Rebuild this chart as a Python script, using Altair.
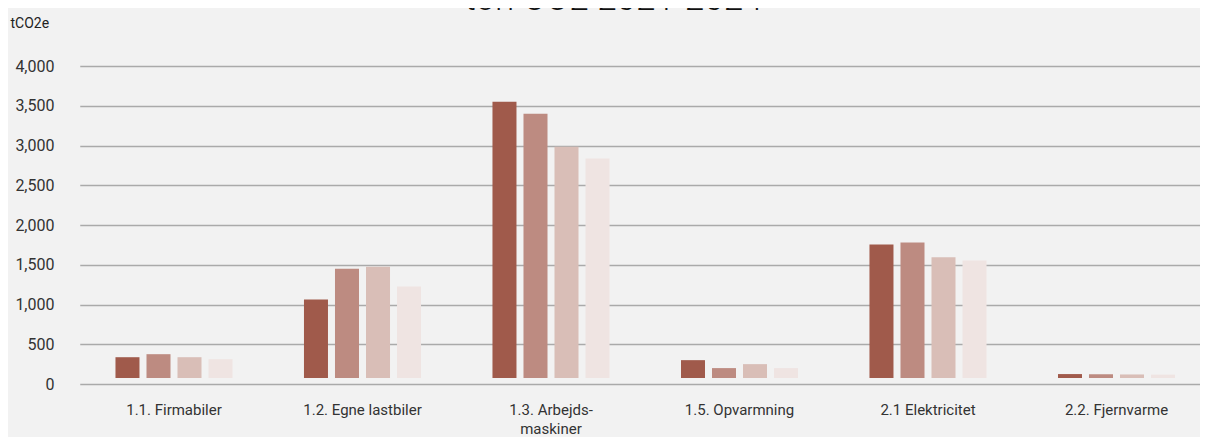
import altair as alt
import pandas as pd

categories = ["1.1. Firmabiler", "1.2. Egne lastbiler", "1.3. Arbejds-maskiner",
              "1.5. Opvarmning", "2.1 Elektricitet", "2.2. Fjernvarme"]
years = ["2021", "2022", "2023", "2024"]
v2021 = [337, 1062, 3550, 300, 1755, 125]
v2022 = [375, 1450, 3400, 200, 1780, 122]
v2023 = [337, 1475, 2985, 250, 1595, 120]
v2024 = [312, 1225, 2835, 200, 1555, 118]
colors = ["#a05a4b", "#bd8b81", "#d9beb7", "#efe4e2"]

rows = []
for y, vals in zip(years, [v2021, v2022, v2023, v2024]):
    for c, v in zip(categories, vals):
        rows.append({"kategori": c, "år": y, "værdi": v})
df = pd.DataFrame(rows)

font = "Roboto"

label_expr = ("datum.value == '1.3. Arbejds-maskiner' ? ['1.3. Arbejds-', 'maskiner'] : datum.value")

chart = alt.Chart(df).mark_bar(y2Offset=-6).encode(
    x=alt.X("kategori:N", sort=categories,
            scale=alt.Scale(range=[10.75, 1141.75], paddingInner=0.379, paddingOuter=0.1895),
            axis=alt.Axis(title=None, domain=False, ticks=False, labelAngle=0,
                          labelFont=font, labelFontSize=15, labelColor="#333333",
                          labelPadding=18, labelLineHeight=19, labelExpr=label_expr)),
    xOffset=alt.XOffset("år:N", sort=years,
                        scale=alt.Scale(paddingInner=0.226, paddingOuter=0)),
    y=alt.Y("værdi:Q", stack=None, scale=alt.Scale(domain=[0, 4000], nice=False),
            axis=alt.Axis(values=list(range(0, 4001, 500)), format=",d",
                          title="tCO2e", titleAngle=0, titleAlign="left",
                          titleBaseline="alphabetic", titleX=-59, titleY=-39,
                          titleFont=font, titleFontSize=14, titleFontWeight="normal",
                          titleColor="#222222",
                          domain=False, ticks=False, labelPadding=15,
                          labelFont=font, labelFontSize=16, labelColor="#333333",
                          grid=True, gridColor="#aaaaaa", gridWidth=1.5)),
    y2=alt.datum(0),
    color=alt.Color("år:N", sort=years, scale=alt.Scale(domain=years, range=colors),
                    legend=None),
).properties(
    width=1131,
    height=318,
    autosize=alt.AutoSizeParams(type="none"),
    padding={"left": 61, "top": 58, "right": 0, "bottom": 53},
    background="#f2f2f2",
    title=alt.TitleParams("ton CO2 2021-2024", font=font, fontSize=35,
                          fontWeight=300, color="#111111", anchor="middle",
                          baseline="alphabetic",
                          frame="group", offset=0, dx=-21, dy=29),
).configure_view(stroke=None)

chart.save("out.html", embed_options={"renderer": "svg", "actions": False})
